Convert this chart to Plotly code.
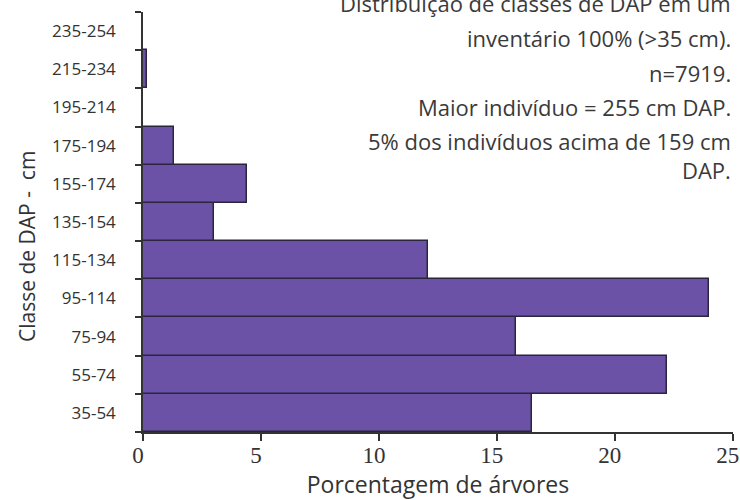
import plotly.graph_objects as go

classes = ["35-54", "55-74", "75-94", "95-114", "115-134", "135-154",
           "155-174", "175-194", "195-214", "215-234", "235-254"]
percent = [16.5, 22.2, 15.8, 24.0, 12.1, 3.0, 4.4, 1.3, 0.0, 0.15, 0.0]
x_ticks = [0, 5, 10, 15, 20, 25]
notes = ["Distribuição de classes de DAP em um",
         "inventário 100% (>35 cm).",
         "n=7919.",
         "Maior indivíduo = 255 cm DAP.",
         "5% dos indivíduos acima de 159 cm<br>DAP."]
note_px = [3, 38, 73, 107, 155]

W, H = 740, 500
ML, MR, MT, MB = 143, 7, 12, 68
pw = W - ML - MR
ph = H - MT - MB

fig = go.Figure(go.Bar(
    x=percent, y=classes, orientation="h",
    marker=dict(color="#6b52a6", line=dict(color="#2b2540", width=1.5)),
))

for txt, py in zip(notes, note_px):
    fig.add_annotation(text=txt, xref="paper", yref="paper", align="right",
                       x=1.0, y=(H - MB - py) / ph, xanchor="right", yanchor="middle",
                       showarrow=False,
                       font=dict(family="Open Sans", size=22, color="#3a3a3a"))

# y-axis title placed as rotated text
fig.add_annotation(text="Classe de DAP\u00a0-\u00a0\u00a0cm", xref="paper", yref="paper",
                   x=(27 - ML) / pw, y=(H - MB - 247) / ph,
                   xanchor="center", yanchor="middle", textangle=-90, showarrow=False,
                   font=dict(family="Open Sans", size=21, color="#333"))

fig.update_layout(
    width=W, height=H,
    margin=dict(l=ML, r=MR, t=MT, b=MB),
    paper_bgcolor="white", plot_bgcolor="white",
    bargap=0, showlegend=False,
    font=dict(family="Liberation Serif", size=23, color="#333"),
    xaxis=dict(
        range=[0, 25.01], tickvals=x_ticks, ticks="outside", ticklen=7, tickwidth=1.5,
        tickcolor="#333", showline=True, linecolor="#333", linewidth=1.5,
        showgrid=False, zeroline=False, automargin=False,
        ticklabelstandoff=-5, ticklabelshift=-5,
        tickfont=dict(family="Times New Roman, Liberation Serif, serif", size=23, color="#333"),
        title=dict(text="Porcentagem de árvores", standoff=2,
                   font=dict(family="Open Sans", size=23, color="#333")),
    ),
    yaxis=dict(
        type="category", categoryorder="array", categoryarray=classes,
        tickson="boundaries", ticks="outside", ticklen=6, tickwidth=1.5,
        tickcolor="#333", showline=True, linecolor="#333", linewidth=1.5,
        showgrid=False, ticklabelstandoff=22, automargin=False,
        tickfont=dict(family="Open Sans", size=17, color="#333"),
    ),
)

fig.write_html("out.html", config={"displayModeBar": False},
               post_script="document.body.style.margin='0';")
